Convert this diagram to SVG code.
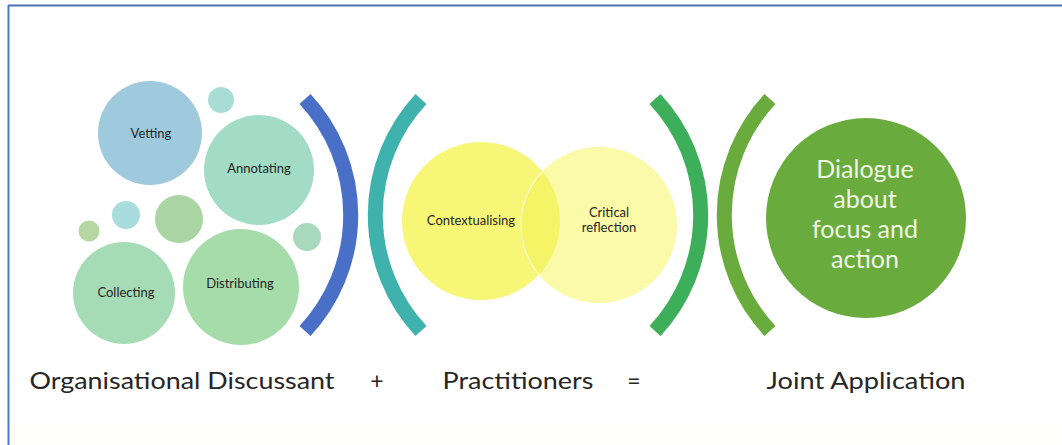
<svg xmlns="http://www.w3.org/2000/svg" width="1062" height="445" viewBox="0 0 1062 445">
  <style>
    .lbl { font-family: Lato, "Open Sans", "Liberation Sans", sans-serif; fill: #262626; text-anchor: middle; }
    .small { font-size: 13px; }
    .big { font-size: 23px; }
    .white { font-family: Lato, "Open Sans", "Liberation Sans", sans-serif; fill: #eef6e4; text-anchor: middle; font-size: 25px; }
    .arc { fill: none; stroke-width: 15; stroke-linecap: butt; }
  </style>
  <defs>
    <clipPath id="leftVenn">
      <circle cx="481" cy="221" r="79"/>
    </clipPath>
  </defs>

  <!-- frame -->
  <rect x="0" y="0" width="1062" height="445" fill="#ffffff"/>
  <rect x="9" y="424" width="1050" height="21" fill="#fffff8"/>
  <line x1="8" y1="5.5" x2="1062" y2="5.5" stroke="#4a72a8" stroke-width="2"/>
  <line x1="8.5" y1="5" x2="8.5" y2="445" stroke="#4a7cc4" stroke-width="2"/>

  <!-- organisational discussant cluster -->
  <g id="bubble-small-top"><circle cx="221" cy="100" r="13" fill="#a9dcd5"/></g>
  <g id="node-vetting">
    <circle cx="150" cy="133" r="52" fill="#9fcade"/>
    <text class="lbl small" x="151" y="138">Vetting</text>
  </g>
  <g id="node-annotating">
    <circle cx="259" cy="170" r="55" fill="#a2dcc6"/>
    <text class="lbl small" x="259" y="173">Annotating</text>
  </g>
  <g id="bubble-teal"><circle cx="126" cy="215" r="14" fill="#a8dcdd"/></g>
  <g id="bubble-green"><circle cx="179" cy="219" r="24" fill="#a9d6a2"/></g>
  <g id="bubble-olive"><circle cx="89" cy="231" r="10.5" fill="#b6d6a2"/></g>
  <g id="bubble-right"><circle cx="307" cy="237" r="14" fill="#a9d9bd"/></g>
  <g id="node-collecting">
    <circle cx="124" cy="293" r="51" fill="#a5dcb6"/>
    <text class="lbl small" x="126" y="297">Collecting</text>
  </g>
  <g id="node-distributing">
    <circle cx="241" cy="287" r="58" fill="#a6dca9"/>
    <text class="lbl small" x="240" y="288">Distributing</text>
  </g>

  <!-- brackets -->
  <g id="brackets">
    <path class="arc" stroke="#4a6fc6" d="M305 99 A170 170 0 0 1 305 331"/>
    <path class="arc" stroke="#3fb2ad" d="M421 99 A170 170 0 0 0 421 331"/>
    <path class="arc" stroke="#3daf5b" d="M655 99 A170 170 0 0 1 655 331"/>
    <path class="arc" stroke="#6aab3e" d="M770 99 A170 170 0 0 0 770 331"/>
  </g>

  <!-- practitioners venn -->
  <g id="node-contextualising">
    <circle cx="481" cy="221" r="79" fill="#f7f676"/>
  </g>
  <g id="node-critical-reflection">
    <circle cx="599" cy="225" r="78" fill="#fafaa8"/>
    <circle cx="599" cy="225" r="78" fill="#f5f466" clip-path="url(#leftVenn)"/>
    <circle cx="599" cy="225" r="78" fill="none" stroke="#fbfbd0" stroke-width="1.2" clip-path="url(#leftVenn)"/>
    <text class="lbl small" x="609" y="217">Critical</text>
    <text class="lbl small" x="609" y="232">reflection</text>
  </g>
  <text class="lbl small" x="471" y="225">Contextualising</text>

  <!-- joint application -->
  <g id="node-dialogue">
    <circle cx="866" cy="218" r="100" fill="#6aab3e"/>
    <text class="white" x="865" y="178">Dialogue</text>
    <text class="white" x="865" y="208">about</text>
    <text class="white" x="865" y="238">focus and</text>
    <text class="white" x="865" y="268">action</text>
  </g>

  <!-- equation labels -->
  <g id="labels">
    <text class="lbl big" x="182" y="389" textLength="305" lengthAdjust="spacingAndGlyphs">Organisational Discussant</text>
    <text class="lbl big" x="377" y="389">+</text>
    <text class="lbl big" x="518" y="389" textLength="151" lengthAdjust="spacingAndGlyphs">Practitioners</text>
    <text class="lbl big" x="634" y="389">=</text>
    <text class="lbl big" x="866" y="389" textLength="199" lengthAdjust="spacingAndGlyphs">Joint Application</text>
  </g>
</svg>
